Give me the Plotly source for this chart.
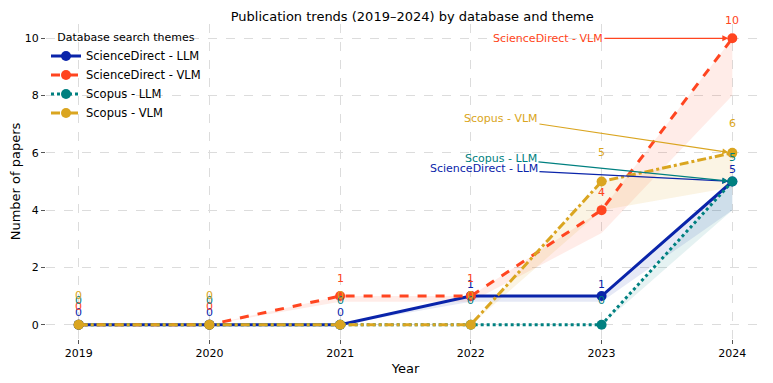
import plotly.graph_objects as go

years = [2019, 2020, 2021, 2022, 2023, 2024]

sd_llm = [0, 0, 0, 1, 1, 5]
sd_vlm = [0, 0, 1, 1, 4, 10]
sc_llm = [0, 0, 0, 0, 0, 5]
sc_vlm = [0, 0, 0, 0, 5, 6]

# lower edge of the shaded band under each line
sd_llm_low = [0, 0, 0, 0.8, 0.8, 4]
sd_vlm_low = [0, 0, 0.8, 0.8, 3.2, 8]
sc_llm_low = [0, 0, 0, 0, 0, 4]
sc_vlm_low = [0, 0, 0, 0, 4, 4.8]

series = [
    # name, values, low, color, dash, band rgba, label shift px
    ('ScienceDirect - LLM', sd_llm, sd_llm_low, '#0a24aa', 'solid', 'rgba(10,36,170,0.10)', 12),
    ('ScienceDirect - VLM', sd_vlm, sd_vlm_low, '#ff4520', 'dash', 'rgba(255,69,32,0.10)', 18),
    ('Scopus - LLM', sc_llm, sc_llm_low, '#008080', 'dot', 'rgba(0,128,128,0.10)', 24),
    ('Scopus - VLM', sc_vlm, sc_vlm_low, '#daa520', 'dashdot', 'rgba(218,165,32,0.12)', 29),
]

# callout text positions (data coords) for the 2024 end points
callouts = {
    'ScienceDirect - VLM': (2022.59, 10.0),
    'Scopus - VLM': (2022.23, 7.21),
    'Scopus - LLM': (2022.23, 5.82),
    'ScienceDirect - LLM': (2022.10, 5.44),
}

FONT = 'DejaVu Sans'
fig = go.Figure()

for name, vals, low, color, dash, band, _ in series:
    fig.add_trace(go.Scatter(
        x=years + years[::-1], y=vals + low[::-1],
        fill='toself', fillcolor=band, line=dict(width=0),
        mode='lines', showlegend=False, hoverinfo='skip',
    ))

for name, vals, low, color, dash, band, _ in series:
    fig.add_trace(go.Scatter(
        x=years, y=vals, mode='lines+markers', name=name,
        line=dict(color=color, width=3, dash=dash),
        marker=dict(size=10, color=color),
    ))

anns = []
for name, vals, low, color, dash, band, shift in series:
    for x, v in zip(years, vals):
        anns.append(dict(
            x=x, y=v, text=str(v), showarrow=False, yshift=shift,
            font=dict(size=11, color=color, family=FONT),
        ))
    tx, ty = callouts[name]
    anns.append(dict(
        x=years[-1], y=vals[-1], text=name, showarrow=True,
        ax=tx, ay=ty, axref='x', ayref='y',
        arrowhead=2, arrowsize=1, arrowwidth=1.2, arrowcolor=color,
        standoff=4, font=dict(size=11, color=color, family=FONT),
    ))

# page body adds an 8px offset, margins compensate for it
fig.update_layout(
    width=773, height=383,
    margin=dict(l=38, r=16, t=16, b=52),
    plot_bgcolor='white', paper_bgcolor='white',
    font=dict(family=FONT, size=11, color='black'),
    title=dict(text='Publication trends (2019–2024) by database and theme',
               x=0.523, xanchor='center', yref='container', y=0.979, yanchor='middle',
               font=dict(size=13)),
    legend=dict(
        title=dict(text='Database search themes', font=dict(size=11), side='top center'),
        x=0.0, y=0.99, xanchor='left', yanchor='top',
        bgcolor='rgba(255,255,255,0)', font=dict(size=11.5),
        tracegroupgap=0, itemwidth=30,
    ),
    annotations=anns,
)
fig.update_xaxes(
    range=[2018.75, 2024.25], tickvals=years, automargin=False,
    title=dict(text='Year', standoff=4, font=dict(size=13)),
    showgrid=True, gridcolor='#dcdcdc', griddash='dash', zeroline=False,
    showline=False, ticks='outside', ticklen=4, tickcolor='#555',
    tickfont=dict(size=11),
)
fig.update_yaxes(
    range=[-0.5, 10.5], tickvals=[0, 2, 4, 6, 8, 10], automargin=False,
    title=dict(text='Number of papers', standoff=6, font=dict(size=13)),
    showgrid=True, gridcolor='#dcdcdc', griddash='dash', zeroline=False,
    showline=False, ticks='outside', ticklen=4, tickcolor='#555',
    tickfont=dict(size=11),
)

fig.write_html("out.html")
